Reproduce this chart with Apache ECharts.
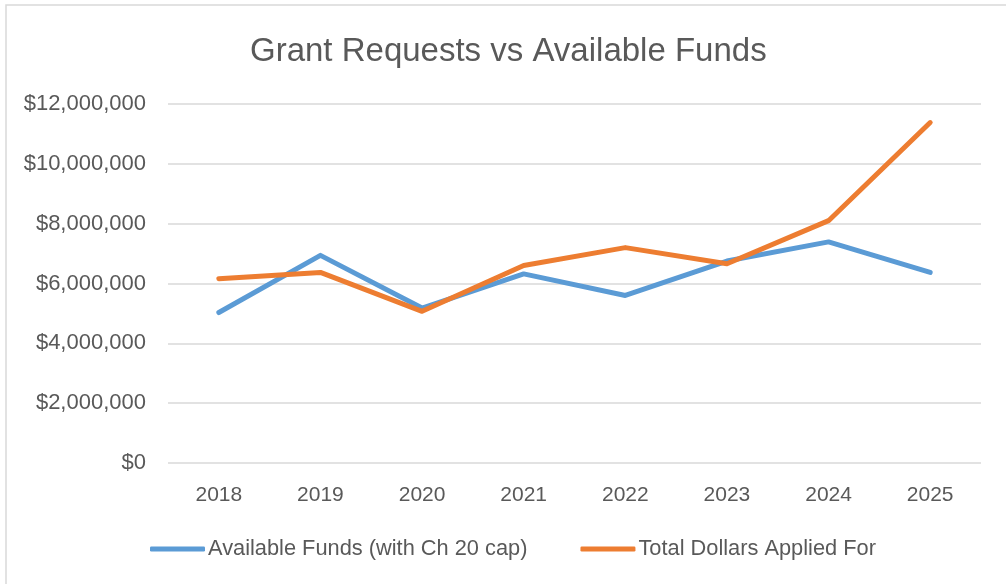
<!DOCTYPE html>
<html>
<head>
<meta charset="utf-8">
<script src="https://cdn.jsdelivr.net/npm/echarts@6/dist/echarts.min.js"></script>
<style>html,body{margin:0;padding:0;background:#fff}#c{width:1006px;height:584px}</style>
</head>
<body>
<div id="c"></div>
<script>
const years = ['2018','2019','2020','2021','2022','2023','2024','2025'];
const availableFunds = [5030000, 6940000, 5180000, 6320000, 5600000, 6750000, 7390000, 6370000];
const totalApplied = [6160000, 6370000, 5070000, 6600000, 7200000, 6660000, 8100000, 11380000];
const seriesNames = ['Available Funds (with Ch 20 cap)', 'Total Dollars Applied For'];
const titleText = 'Grant Requests vs Available Funds';

const chart = echarts.init(document.getElementById('c'));
const font = 'Liberation Sans';
function fmt(v){ return '$' + v.toLocaleString('en-US'); }
chart.setOption({
  backgroundColor: '#fff',
  animation: false,
  graphic: [{
    type: 'rect', shape: {x: 6, y: 5, width: 1010, height: 600},
    style: {fill: 'none', stroke: '#d9d9d9', lineWidth: 1.5}, silent: true
  }],
  title: {
    text: titleText, left: 245, top: 30,
    textStyle: {fontFamily: font, fontSize: 33, fontWeight: 'normal', color: '#595959'}
  },
  legend: {
    left: 145, top: 533,
    itemWidth: 55, itemHeight: 5, itemGap: 53, icon: 'roundRect',
    textStyle: {fontFamily: font, fontSize: 21.8, color: '#595959', padding: [0,0,0,-2]},
    data: seriesNames
  },
  grid: {left: 168, right: 25, top: 104, bottom: 121, containLabel: false},
  xAxis: {
    type: 'category', data: years, boundaryGap: true,
    axisLine: {show: false}, axisTick: {show: false},
    axisLabel: {fontFamily: font, fontSize: 21, color: '#595959', margin: 22}
  },
  yAxis: {
    type: 'value', min: 0, max: 12000000, interval: 2000000,
    axisLine: {show: false}, axisTick: {show: false},
    splitLine: {lineStyle: {color: '#d9d9d9', width: 1.5}},
    axisLabel: {fontFamily: font, fontSize: 22, color: '#595959', margin: 22, formatter: fmt}
  },
  series: [
    {name: seriesNames[0], type: 'line', data: availableFunds, symbol: 'none',
     lineStyle: {color: '#5B9BD5', width: 5, cap: 'round', join: 'round'}, itemStyle: {color: '#5B9BD5'}},
    {name: seriesNames[1], type: 'line', data: totalApplied, symbol: 'none',
     lineStyle: {color: '#ED7D31', width: 5, cap: 'round', join: 'round'}, itemStyle: {color: '#ED7D31'}}
  ]
});
</script>
</body>
</html>
